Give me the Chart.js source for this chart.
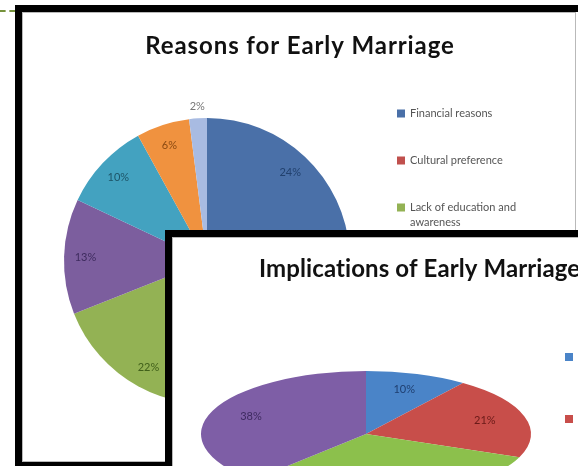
<!DOCTYPE html>
<html>
<head>
<meta charset="utf-8">
<script src="https://cdn.jsdelivr.net/npm/chart.js@4.4.0/dist/chart.umd.min.js"></script>
<style>
  html, body { margin: 0; padding: 0; background: #fff; overflow: hidden; }
  body { width: 578px; height: 466px; position: relative; }
  .dash { position: absolute; left: 0; top: 10px; width: 15px; border-top: 2px dashed #76923C; }
  .bar { position: absolute; background: #000; }
  .sheet { position: absolute; background: #fff; border: 1px solid #b9b9b9; box-sizing: border-box; }
  .sheet canvas { position: absolute; left: 0; top: 0; }
</style>
</head>
<body>
<div class="dash"></div>

<!-- first slide frame -->
<div class="bar" style="left:15px;top:5px;width:563px;height:7px"></div>
<div class="bar" style="left:15px;top:5px;width:7px;height:461px"></div>
<div class="bar" style="left:15px;top:462px;width:563px;height:4px"></div>
<div class="sheet" style="left:22px;top:12px;width:554px;height:450px">
  <canvas id="reasons" width="552" height="448"></canvas>
</div>

<!-- second slide frame, laid over the first -->
<div class="bar" style="left:165px;top:230px;width:413px;height:7px"></div>
<div class="bar" style="left:165px;top:230px;width:7px;height:236px"></div>
<div class="sheet" style="left:172px;top:237px;width:554px;height:450px">
  <canvas id="implications" width="552" height="448"></canvas>
</div>

<script>
// ---- data ----
const reasonTitle = 'Reasons for Early Marriage';
const reasonLabels = ['Financial reasons', 'Cultural preference', 'Lack of education and awareness',
                      'Religious beliefs', 'Family pressure', 'Insecurity', 'Others'];
const reasonValues = [24, 23, 22, 13, 10, 6, 2];

const implicationTitle = 'Implications of Early Marriage';
const implicationLabels = ['Health problems for young mothers and their children',
                           'Early pregnancy and complications in childbirth',
                           'Domestic violence', 'Poverty'];
const implicationValues = [10, 21, 31, 38];

// ---- styling ----
const reasonColors = ['#4A70A8', '#C0504D', '#93B254', '#7C5E9E', '#43A2C0', '#F0923F', '#A8BBE2'];
const reasonTextColors = ['#22416E', '#6E1F1D', '#41601A', '#3E2B5E', '#1D5568', '#8A4A12', '#6A7088'];
const implicationColors = ['#4A84C8', '#C84E4A', '#8CC04C', '#7E5EA6'];
const implicationTextColors = ['#1F3F70', '#6A1A18', '#3E5E18', '#3E2A60'];

const FONT = 'Lato, "Open Sans", sans-serif';

// Slide heading drawn on the chart canvas.
const slideTitle = {
  id: 'slideTitle',
  afterDraw(chart, args, o) {
    const ctx = chart.ctx;
    ctx.save();
    ctx.font = 'bold 24px ' + FONT;
    ctx.letterSpacing = o.spacing;
    ctx.fillStyle = '#111';
    ctx.textAlign = o.align;
    ctx.textBaseline = 'middle';
    ctx.fillText(o.text, o.x, o.y);
    ctx.restore();
  }
};

// Flattens the pie into an ellipse (tilted disc look).
const squash = {
  id: 'squash',
  beforeDatasetsDraw(chart, args, o) {
    if (!o.k) return;
    const arc = chart.getDatasetMeta(0).data[0];
    const ctx = chart.ctx;
    ctx.save();
    ctx.translate(arc.x, o.cy);
    ctx.scale(1, o.k);
    ctx.translate(-arc.x, -arc.y);
  },
  afterDatasetsDraw(chart, args, o) {
    if (!o.k) return;
    chart.ctx.restore();
  }
};

// Percentage labels placed from each arc's own geometry.
const valueLabels = {
  id: 'valueLabels',
  afterDraw(chart, args, o) {
    const ctx = chart.ctx;
    const sq = chart.options.plugins.squash || {};
    const meta = chart.getDatasetMeta(0);
    const values = chart.data.datasets[0].data;
    ctx.save();
    ctx.font = o.font;
    ctx.textAlign = 'center';
    ctx.textBaseline = 'middle';
    meta.data.forEach((arc, i) => {
      const mid = (arc.startAngle + arc.endAngle) / 2;
      const f = values[i] < 4 ? o.outside : o.inside;
      const x = arc.x + Math.cos(mid) * arc.outerRadius * f;
      let y = arc.y + Math.sin(mid) * arc.outerRadius * f;
      if (sq.k) y = sq.cy + (y - arc.y) * sq.k;
      ctx.fillStyle = values[i] < 4 ? '#777' : o.colors[i];
      ctx.fillText(values[i] + '%', x, y);
    });
    ctx.restore();
  }
};

// Legend on the right: small square plus wrapped label.
const sideLegend = {
  id: 'sideLegend',
  afterDraw(chart, args, o) {
    const ctx = chart.ctx;
    const colors = chart.data.datasets[0].backgroundColor;
    ctx.save();
    ctx.font = o.font;
    ctx.textBaseline = 'middle';
    ctx.textAlign = 'left';
    let y = o.y;
    chart.data.labels.forEach((label, i) => {
      const words = label.split(' ');
      const lines = [];
      let cur = '';
      words.forEach(w => {
        const t = cur ? cur + ' ' + w : w;
        if (cur && ctx.measureText(t).width > o.maxWidth) { lines.push(cur); cur = w; }
        else cur = t;
      });
      lines.push(cur);
      ctx.fillStyle = colors[i];
      ctx.fillRect(o.x, y - o.box / 2, o.box, o.box);
      ctx.fillStyle = o.color;
      lines.forEach((ln, j) => ctx.fillText(ln, o.x + o.box + 5, y + j * o.lineHeight));
      y += lines.length * o.lineHeight + o.gap;
    });
    ctx.restore();
  }
};

function pieChart(id, cfg) {
  return new Chart(document.getElementById(id), {
    type: 'pie',
    data: {
      labels: cfg.labels,
      datasets: [{
        data: cfg.values,
        backgroundColor: cfg.colors,
        borderWidth: 0,
        hoverBorderWidth: 0,
        hoverOffset: 0,
        clip: false
      }]
    },
    options: {
      responsive: false,
      animation: false,
      devicePixelRatio: 1,
      rotation: 0,
      events: [],
      layout: { padding: cfg.padding },
      plugins: {
        legend: { display: false },
        tooltip: { enabled: false },
        title: { display: false },
        slideTitle: cfg.title,
        squash: cfg.squash || {},
        valueLabels: { font: '11px ' + FONT, colors: cfg.textColors, inside: cfg.inside, outside: 1.08 },
        sideLegend: cfg.legend
      }
    },
    plugins: [squash, valueLabels, sideLegend, slideTitle]
  });
}

pieChart('reasons', {
  title: { text: reasonTitle, x: 277, y: 33, align: 'center', spacing: '0.9px' },
  labels: reasonLabels,
  values: reasonValues,
  colors: reasonColors,
  textColors: reasonTextColors,
  padding: { left: 41, right: 225, top: 105, bottom: 57 },
  inside: 0.85,
  legend: { x: 374, y: 100.5, box: 8, lineHeight: 15, gap: 32, maxWidth: 120,
            font: '11px ' + FONT, color: '#555' }
});

pieChart('implications', {
  title: { text: implicationTitle, x: 86, y: 31, align: 'left', spacing: '0.1px' },
  labels: implicationLabels,
  values: implicationValues,
  colors: implicationColors,
  textColors: implicationTextColors,
  padding: { left: 28, right: 194, top: 31, bottom: 87 },
  inside: 0.75,
  squash: { k: 63 / 165, cy: 196 },
  legend: { x: 392, y: 119, box: 8, lineHeight: 16, gap: 14, maxWidth: 120,
            font: '11px ' + FONT, color: '#555' }
});
</script>
</body>
</html>
